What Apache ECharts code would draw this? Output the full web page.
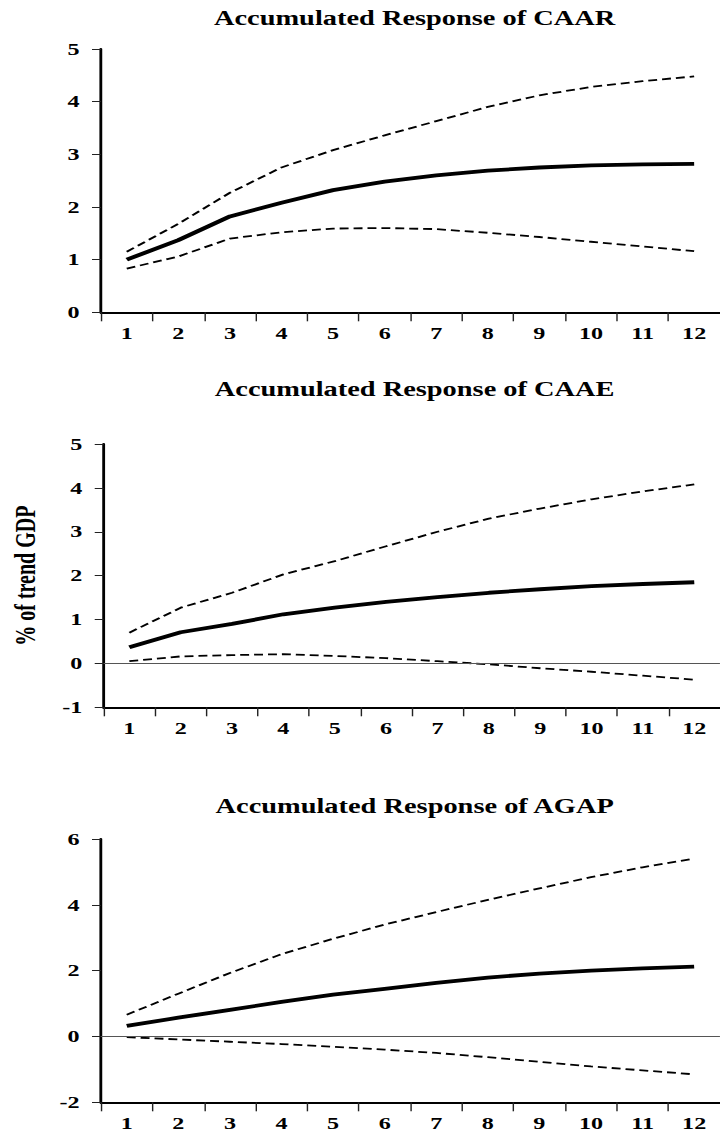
<!DOCTYPE html>
<html>
<head>
<meta charset="utf-8">
<script src="https://cdn.jsdelivr.net/npm/echarts@6/dist/echarts.min.js"></script>
<style>
html, body { margin: 0; padding: 0; background: #fff; overflow: hidden; }
#wrap { width: 720px; height: 1132px; overflow: hidden; }
#chart { width: 507px; height: 1132px; transform: scaleX(1.42); transform-origin: 0 0; }
</style>
</head>
<body>
<div id="wrap"><div id="chart"></div></div>
<script>
// ---- data ----
const periods = ['1', '2', '3', '4', '5', '6', '7', '8', '9', '10', '11', '12'];

const caarTitle = 'Accumulated Response of CAAR';
const caarResp  = [1.00, 1.37, 1.82, 2.08, 2.32, 2.48, 2.60, 2.69, 2.75, 2.79, 2.81, 2.82];
const caarUpper = [1.15, 1.68, 2.27, 2.75, 3.08, 3.36, 3.63, 3.90, 4.12, 4.28, 4.39, 4.48];
const caarLower = [0.83, 1.06, 1.40, 1.52, 1.59, 1.60, 1.58, 1.51, 1.43, 1.34, 1.25, 1.16];
const caarAxis  = [0, 5, 1];   // min, max, interval

const caaeTitle = 'Accumulated Response of CAAE';
const caaeResp  = [0.37, 0.71, 0.90, 1.12, 1.27, 1.40, 1.51, 1.61, 1.69, 1.76, 1.81, 1.85];
const caaeUpper = [0.70, 1.27, 1.61, 2.03, 2.33, 2.67, 3.00, 3.30, 3.53, 3.74, 3.92, 4.08];
const caaeLower = [0.05, 0.16, 0.19, 0.21, 0.17, 0.12, 0.05, -0.02, -0.11, -0.19, -0.28, -0.37];
const caaeAxis  = [-1, 5, 1];

const agapTitle = 'Accumulated Response of AGAP';
const agapResp  = [0.32, 0.57, 0.81, 1.05, 1.27, 1.45, 1.63, 1.79, 1.91, 2.00, 2.07, 2.12];
const agapUpper = [0.66, 1.30, 1.93, 2.50, 2.97, 3.40, 3.78, 4.15, 4.50, 4.84, 5.14, 5.40];
const agapLower = [-0.02, -0.09, -0.16, -0.23, -0.31, -0.40, -0.50, -0.63, -0.77, -0.91, -1.03, -1.15];
const agapAxis  = [-2, 6, 2];

const yAxisTitle = '% of trend GDP';

// ---- layout / style ----
const SERIF = '"Liberation Serif", "Times New Roman", serif';
const panels = [
  { title: caarTitle, resp: caarResp, upper: caarUpper, lower: caarLower, axis: caarAxis, top: 49,  titleTop: 8,   zero: false },
  { title: caaeTitle, resp: caaeResp, upper: caaeUpper, lower: caaeLower, axis: caaeAxis, top: 444, titleTop: 379, zero: true },
  { title: agapTitle, resp: agapResp, upper: agapUpper, lower: agapLower, axis: agapAxis, top: 839, titleTop: 796, zero: true }
];
const GRID_LEFT = 71.1, GRID_W = 437.3, GRID_H = 263.3;

const option = {
  animation: false,
  backgroundColor: '#fff',
  title: [], grid: [], xAxis: [], yAxis: [], series: []
};

panels.forEach((p, i) => {
  option.title.push({
    text: p.title, left: 292, top: p.titleTop, textAlign: 'center', padding: 0,
    textStyle: { fontFamily: SERIF, fontWeight: 'bold', fontSize: 20, color: '#000' }
  });
  option.grid.push({ left: GRID_LEFT, top: p.top, width: GRID_W, height: GRID_H, containLabel: false });
  option.xAxis.push({
    type: 'category', gridIndex: i, data: periods, boundaryGap: true,
    axisLine: { show: true, onZero: false, lineStyle: { color: '#000', width: 2 } },
    axisTick: { show: true, length: 9, inside: false, lineStyle: { color: '#222', width: 1 } },
    axisLabel: { margin: 12, fontFamily: SERIF, fontWeight: 'bold', fontSize: 17, color: '#000', interval: 0 },
    splitLine: { show: false }
  });
  const ya = {
    type: 'value', gridIndex: i, min: p.axis[0], max: p.axis[1], interval: p.axis[2],
    axisLine: { show: true, lineStyle: { color: '#000', width: 2 } },
    axisTick: { show: true, length: 6.3, lineStyle: { color: '#222', width: 1 } },
    axisLabel: { margin: 15, fontFamily: SERIF, fontWeight: 'bold', fontSize: 17, color: '#000' },
    splitLine: { show: false }
  };
  if (i === 1) {
    ya.name = yAxisTitle;
    ya.nameLocation = 'middle';
    ya.nameGap = 45;
    ya.nameTextStyle = { fontFamily: SERIF, fontWeight: 'bold', fontSize: 20, color: '#000' };
  }
  option.yAxis.push(ya);

  const dashStyle = { color: '#000', width: 1.8, type: [6.3, 3.5] };
  option.series.push({
    type: 'line', xAxisIndex: i, yAxisIndex: i, data: p.upper, showSymbol: false, symbol: 'none',
    lineStyle: dashStyle, silent: true, z: 2
  });
  option.series.push({
    type: 'line', xAxisIndex: i, yAxisIndex: i, data: p.lower, showSymbol: false, symbol: 'none',
    lineStyle: dashStyle, silent: true, z: 2
  });
  const solid = {
    type: 'line', xAxisIndex: i, yAxisIndex: i, data: p.resp, showSymbol: false, symbol: 'none',
    lineStyle: { color: '#000', width: 3.8 }, silent: true, z: 3
  };
  if (p.zero) {
    solid.markLine = {
      silent: true, symbol: ['none', 'none'], label: { show: false },
      lineStyle: { color: '#555', width: 1, type: 'solid' },
      emphasis: { disabled: true },
      data: [{ yAxis: 0 }]
    };
  }
  option.series.push(solid);
});

const chart = echarts.init(document.getElementById('chart'), null, { renderer: 'svg' });
chart.setOption(option);
</script>
</body>
</html>
